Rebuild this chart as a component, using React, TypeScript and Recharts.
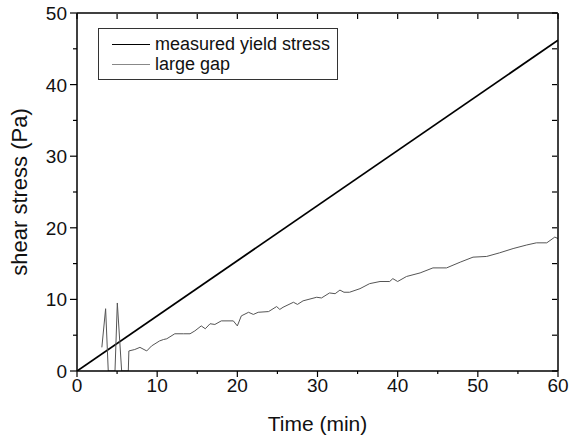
import { LineChart, Line, XAxis, YAxis, Legend } from 'recharts'

// straight reference line
const measuredTime = [0, 60]
const measuredStress = [0, 46.2]

// large gap measurement (min, Pa)
const gapTime = [
  3.1, 3.57, 3.9, 4.74, 5.03, 5.57, 6.4, 6.47, 7.2, 7.85, 8.7, 9.3, 10.3, 10.8, 11.2,
  12.2, 13.3, 14.1, 14.7, 15.5, 16.0, 16.6, 17.2, 18.0, 19.5, 20.0, 20.5, 21.4, 22.0,
  22.6, 23.9, 24.9, 25.3, 25.7, 27.0, 27.5, 28.2, 29.9, 30.5, 31.5, 32.2, 32.8, 33.3,
  34.0, 35.3, 36.5, 37.8, 39.0, 39.4, 40.0, 41.1, 42.8, 44.4, 46.1, 47.8, 49.4, 51.1,
  52.7, 54.4, 56.1, 57.3, 58.6, 59.6, 60.0
]
const gapStress = [
  3.3, 8.7, 0, 0, 9.5, 0, 0, 2.8, 3.0, 3.3, 2.8, 3.5, 4.2, 4.4, 4.5,
  5.2, 5.2, 5.2, 5.6, 6.3, 5.9, 6.6, 6.5, 7.0, 7.0, 6.3, 7.7, 8.2, 7.9,
  8.2, 8.3, 9.0, 8.6, 8.9, 9.6, 9.3, 9.8, 10.3, 10.2, 10.9, 10.8, 11.3, 11.0,
  11.0, 11.5, 12.2, 12.5, 12.5, 12.9, 12.5, 13.2, 13.7, 14.4, 14.4, 15.2, 15.9, 16.0,
  16.5, 17.1, 17.6, 17.9, 17.9, 18.7, 18.5
]

const seriesNames = ['measured yield stress', 'large gap']
const xTicks = [0, 5, 10, 15, 20, 25, 30, 35, 40, 45, 50, 55, 60]
const yTicks = [0, 5, 10, 15, 20, 25, 30, 35, 40, 45, 50]

const measuredData = measuredTime.map((t, i) => ({ t, v: measuredStress[i] }))
const gapData = gapTime.map((t, i) => ({ t, v: gapStress[i] }))

const FONT = '"Liberation Sans", Arial, sans-serif'

const BottomTick = ({ x, y, payload }: any) => {
  const major = payload.value % 10 === 0
  return (
    <g>
      <line x1={x} x2={x} y1={y} y2={y + (major ? 6 : 3)} stroke="#000" strokeWidth={1.2} />
      {major && (
        <text x={x} y={y + 21} textAnchor="middle" fontSize={19} fill="#111">
          {payload.value}
        </text>
      )}
    </g>
  )
}

const LeftTick = ({ x, y, payload }: any) => {
  const major = payload.value % 10 === 0
  return (
    <g>
      <line x1={x} x2={x - (major ? 7 : 4)} y1={y} y2={y} stroke="#000" strokeWidth={1.2} />
      {major && (
        <text x={x - 10} y={y + 7} textAnchor="end" fontSize={19} fill="#111">
          {payload.value}
        </text>
      )}
    </g>
  )
}

// frame ticks point into the plot
const TopTick = ({ x, y }: any) => (
  <line x1={x} x2={x} y1={y + 1} y2={y + 6} stroke="#000" strokeWidth={1.2} />
)

const RightTick = ({ x, y }: any) => (
  <line x1={x - 1} x2={x - 6} y1={y} y2={y} stroke="#000" strokeWidth={1.2} />
)

const LegendBox = ({ payload }: any) => {
  const items = seriesNames
    .map((name) => (payload || []).find((p: any) => p.value === name))
    .filter(Boolean)
  return (
    <div
      style={{
        width: 240,
        height: 52,
        boxSizing: 'border-box',
        border: '1.5px solid #333',
        background: '#fff',
        paddingTop: 5,
        fontFamily: FONT,
        fontSize: 18,
        color: '#111'
      }}
    >
      {items.map((entry: any, i: number) => (
        <div key={`legend-${i}`} style={{ display: 'flex', alignItems: 'center', height: 20 }}>
          <div
            style={{
              marginLeft: 13,
              width: 38,
              height: 0,
              borderTop: i === 0 ? '1.8px solid #000' : '1px solid #888'
            }}
          />
          <span style={{ marginLeft: 5, lineHeight: '20px' }}>{entry.value}</span>
        </div>
      ))}
    </div>
  )
}

export default function App() {
  return (
    <div style={{ position: 'absolute', left: 0, top: 0, background: '#fff' }}>
      <LineChart
        width={571}
        height={441}
        margin={{ top: 12, right: 12, bottom: 6, left: 0 }}
        style={{ fontFamily: FONT }}
      >
        <XAxis
          xAxisId="b"
          dataKey="t"
          type="number"
          domain={[0, 60]}
          ticks={xTicks}
          interval={0}
          allowDataOverflow
          height={64}
          tickSize={0}
          tickMargin={0}
          tickLine={false}
          tick={<BottomTick />}
          axisLine={{ stroke: '#000', strokeWidth: 1.5 }}
          label={{ value: 'Time (min)', position: 'insideBottom', offset: 4, fontSize: 21, fill: '#111' }}
        />
        <XAxis
          xAxisId="top"
          dataKey="t"
          orientation="top"
          type="number"
          domain={[0, 60]}
          ticks={xTicks}
          interval={0}
          allowDataOverflow
          height={1}
          tickSize={0}
          tickMargin={0}
          tickLine={false}
          tick={<TopTick />}
          axisLine={{ stroke: '#000', strokeWidth: 1.5 }}
        />
        <YAxis
          yAxisId="l"
          type="number"
          domain={[0, 50]}
          ticks={yTicks}
          interval={0}
          allowDataOverflow
          width={77}
          tickSize={0}
          tickMargin={0}
          tickLine={false}
          tick={<LeftTick />}
          axisLine={{ stroke: '#000', strokeWidth: 1.5 }}
          label={{
            value: 'shear stress (Pa)',
            angle: -90,
            position: 'insideLeft',
            offset: 19,
            fontSize: 22,
            fill: '#111',
            style: { textAnchor: 'middle' }
          }}
        />
        <YAxis
          yAxisId="r"
          orientation="right"
          type="number"
          domain={[0, 50]}
          ticks={yTicks}
          interval={0}
          allowDataOverflow
          width={1}
          tickSize={0}
          tickMargin={0}
          tickLine={false}
          tick={<RightTick />}
          axisLine={{ stroke: '#000', strokeWidth: 1.5 }}
        />
        <Legend
          layout="horizontal"
          verticalAlign="middle"
          align="center"
          content={<LegendBox />}
          wrapperStyle={{ position: 'absolute', left: 98, top: 28, width: 240 }}
        />
        <Line
          xAxisId="b"
          yAxisId="l"
          data={measuredData}
          dataKey="v"
          name="measured yield stress"
          stroke="#000"
          strokeWidth={1.8}
          dot={false}
          isAnimationActive={false}
        />
        <Line
          xAxisId="b"
          yAxisId="l"
          data={gapData}
          dataKey="v"
          name="large gap"
          stroke="#555"
          strokeWidth={1}
          dot={false}
          isAnimationActive={false}
        />
        {/* invisible copy so the frame axes (top / right) get drawn */}
        <Line
          xAxisId="top"
          yAxisId="r"
          data={measuredData}
          dataKey="v"
          stroke="none"
          legendType="none"
          dot={false}
          activeDot={false}
          isAnimationActive={false}
        />
      </LineChart>
    </div>
  )
}
